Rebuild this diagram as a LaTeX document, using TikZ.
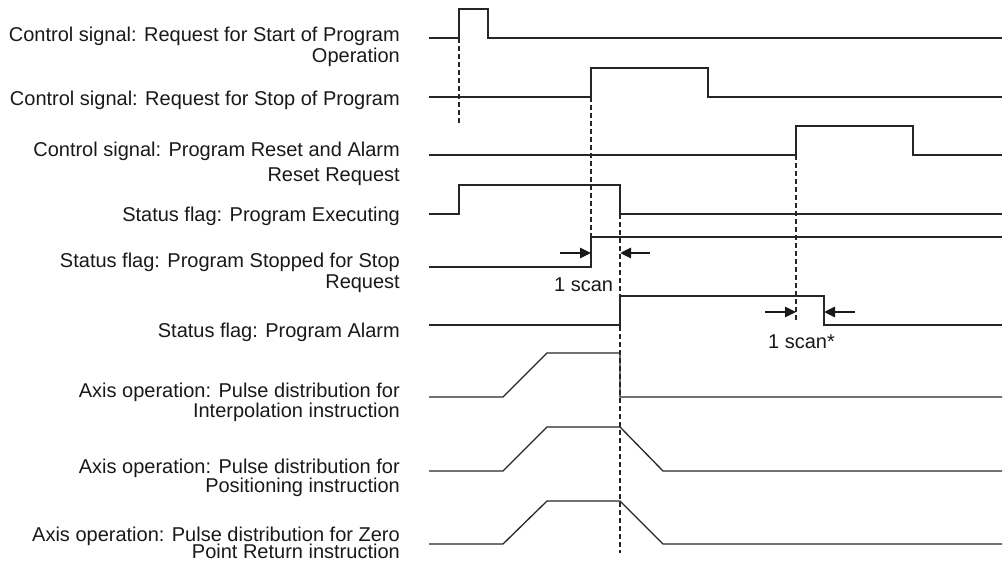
\documentclass[tikz,border=0pt]{standalone}
\usepackage{fontspec}
\setmainfont{Liberation Sans}
\usetikzlibrary{arrows.meta}
\begin{document}
\begin{tikzpicture}[x=1pt,y=-1pt,
  sig/.style={line width=1.3pt, draw=black!85, line join=miter},
  guide/.style={line width=1.1pt, draw=black!85, dash pattern=on 5pt off 3pt},
  lbl/.style={anchor=base east, align=right, inner sep=0pt, font=\fontsize{20}{21}\selectfont, text=black!90},
  scantxt/.style={anchor=base west, inner sep=0pt, font=\fontsize{20}{21}\selectfont, text=black!90},
  scanarrow/.style={line width=2.6pt, draw=black!90, -{Triangle[length=11pt,width=10pt]}}]
\useasboundingbox (0,0) rectangle (1003,561);

% labels (anchored at the baseline of the last line)
\node[lbl] (l1) at (400,63) {Control signal: Request for Start of Program\\Operation};
\node[lbl] (l2) at (400,106) {Control signal: Request for Stop of Program};
\node[lbl] (l3) at (400,182) {Control signal: Program Reset and Alarm\\[4pt]Reset Request};
\node[lbl] (l4) at (400,222) {Status flag: Program Executing};
\node[lbl] (l5) at (400,288) {Status flag: Program Stopped for Stop\\Request};
\node[lbl] (l6) at (400,337) {Status flag: Program Alarm};
\node[lbl] (l7) at (400,417) {Axis operation: Pulse distribution for\\[-1pt]Interpolation instruction};
\node[lbl] (l8) at (400,492) {Axis operation: Pulse distribution for\\[-2pt]Positioning instruction};
\node[lbl] (l9) at (400,558) {Axis operation: Pulse distribution for Zero\\[-4pt]Point Return instruction};

% waveforms
\draw[sig] (429,38) -- (459,38) -- (459,9) -- (488,9) -- (488,38) -- (1002,38);
\draw[sig] (429,97) -- (591,97) -- (591,68) -- (708,68) -- (708,97) -- (1002,97);
\draw[sig] (429,155) -- (796,155) -- (796,126) -- (913,126) -- (913,155) -- (1002,155);
\draw[sig] (429,214) -- (459,214) -- (459,185) -- (620,185) -- (620,214) -- (1002,214);
\draw[sig] (429,267) -- (591,267) -- (591,237) -- (1002,237);
\draw[sig] (429,325) -- (620,325) -- (620,296) -- (824,296) -- (824,325) -- (1002,325);
\draw[sig] (429,397) -- (503,397) -- (547,353) -- (620,353) -- (620,397) -- (1002,397);
\draw[sig] (429,471) -- (503,471) -- (547,427) -- (620,427) -- (663,471) -- (1002,471);
\draw[sig] (429,544) -- (503,544) -- (547,501) -- (620,501) -- (663,544) -- (1002,544);

% guide lines
\draw[guide] (459,38) -- (459,125);
\draw[guide] (591,97) -- (591,237);
\draw[guide] (620,214) -- (620,553);
\draw[guide] (796,155) -- (796,320);

% scan markers
\coordinate (a1s) at (560,253); \coordinate (a1e) at (591,253);
\coordinate (a2s) at (650,253); \coordinate (a2e) at (620,253);
\coordinate (b1s) at (765,312); \coordinate (b1e) at (796,312);
\coordinate (b2s) at (855,312); \coordinate (b2e) at (824,312);
\draw[scanarrow] (a1s) -- (a1e);
\draw[scanarrow] (a2s) -- (a2e);
\draw[scanarrow] (b1s) -- (b1e);
\draw[scanarrow] (b2s) -- (b2e);
\node[scantxt] (s1) at (554,291) {1 scan};
\node[scantxt] (s2) at (768,348) {1 scan*};
\end{tikzpicture}
\end{document}
